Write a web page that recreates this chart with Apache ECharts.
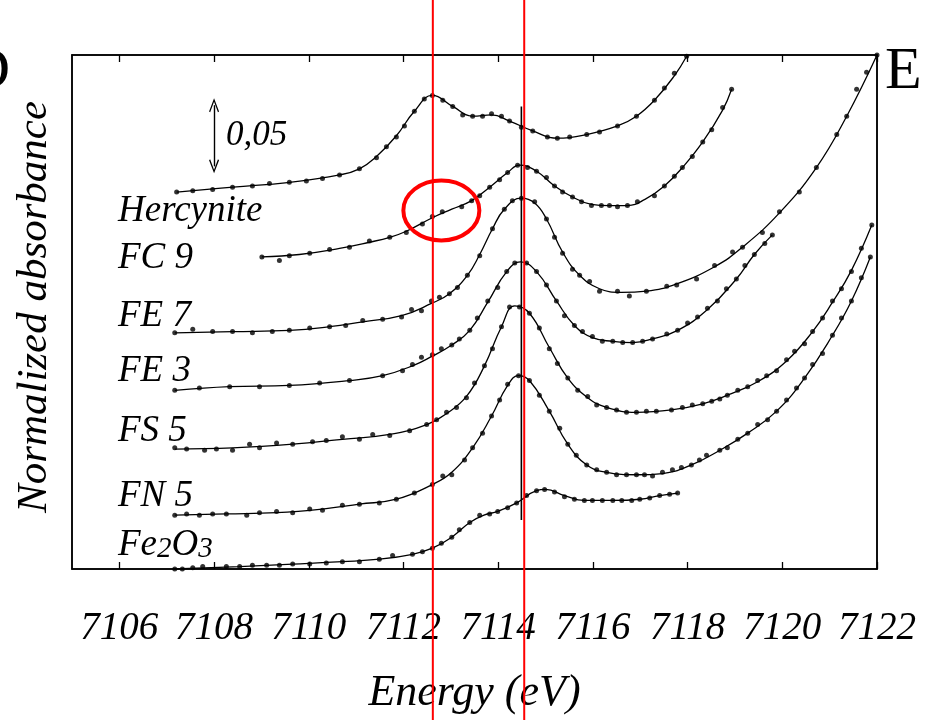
<!DOCTYPE html>
<html>
<head>
<meta charset="utf-8">
<script src="https://cdn.jsdelivr.net/npm/echarts@6/dist/echarts.min.js"></script>
<style>
  html, body { margin: 0; padding: 0; background: #fff; }
  #chart { width: 929px; height: 720px; }
</style>
</head>
<body>
<div id="chart"></div>
<script>
// Fe K pre-edge XANES spectra, vertically offset for clarity: [energy (eV), absorbance]
const energyTicks = [7106, 7108, 7110, 7112, 7114, 7116, 7118, 7120, 7122];

const sampleNames = ['Hercynite', 'FC 9', 'FE 7', 'FE 3', 'FS 5', 'FN 5', 'Fe{s|2}O{s|3}'];

// measured points
const hercynite = [
  [7107.21,0.308],[7107.55,0.309],[7107.97,0.310],[7108.39,0.312],[7108.81,0.313],[7109.17,0.315],
  [7109.59,0.316],[7109.95,0.317],[7110.29,0.319],[7110.65,0.322],[7111.07,0.327],[7111.43,0.336],
  [7111.64,0.345],[7111.85,0.353],[7112.02,0.362],[7112.23,0.374],[7112.44,0.384],[7112.61,0.387],
  [7112.83,0.383],[7113.04,0.378],[7113.25,0.371],[7113.46,0.370],[7113.67,0.370],[7113.86,0.372],
  [7114.07,0.370],[7114.24,0.366],[7114.49,0.361],[7114.73,0.358],[7115.04,0.353],[7115.25,0.352],
  [7115.51,0.353],[7115.87,0.355],[7116.14,0.357],[7116.52,0.362],[7116.92,0.370],[7117.30,0.383],
  [7117.51,0.393],[7117.72,0.405],[7117.98,0.419]
];

const fc9 = [
  [7109.01,0.255],[7109.38,0.252],[7109.59,0.256],[7110.02,0.258],[7110.44,0.261],[7110.86,0.263],
  [7111.28,0.268],[7111.71,0.271],[7112.06,0.275],[7112.40,0.282],[7112.61,0.288],[7112.82,0.292],
  [7113.23,0.296],[7113.44,0.301],[7113.61,0.305],[7113.82,0.312],[7114.03,0.318],[7114.20,0.324],
  [7114.41,0.330],[7114.62,0.328],[7114.81,0.325],[7115.02,0.320],[7115.19,0.313],[7115.36,0.308],
  [7115.57,0.304],[7115.76,0.300],[7115.97,0.297],[7116.18,0.297],[7116.35,0.297],[7116.52,0.296],
  [7116.73,0.297],[7116.94,0.300],[7117.30,0.305],[7117.51,0.313],[7117.72,0.321],[7117.89,0.328],
  [7118.10,0.337],[7118.32,0.349],[7118.51,0.359],[7118.74,0.377],[7118.93,0.392]
];

const fe7 = [
  [7107.17,0.193],[7107.55,0.196],[7107.97,0.194],[7108.39,0.194],[7108.81,0.193],[7109.23,0.194],
  [7109.59,0.195],[7110.02,0.197],[7110.44,0.198],[7110.78,0.199],[7111.14,0.203],[7111.56,0.204],
  [7111.96,0.206],[7112.17,0.212],[7112.38,0.211],[7112.59,0.219],[7112.76,0.222],[7112.97,0.225],
  [7113.14,0.230],[7113.35,0.240],[7113.61,0.256],[7113.88,0.278],[7114.13,0.294],[7114.30,0.301],
  [7114.49,0.303],[7114.77,0.300],[7115.02,0.286],[7115.19,0.271],[7115.36,0.258],[7115.57,0.245],
  [7115.72,0.240],[7115.93,0.235],[7116.14,0.227],[7116.52,0.227],[7116.77,0.223],[7117.13,0.227],
  [7117.56,0.231],[7117.77,0.232],[7118.19,0.237],[7118.57,0.248],[7118.95,0.259],[7119.16,0.263],
  [7119.58,0.275],[7119.94,0.292],[7120.36,0.308],[7120.72,0.328],[7121.15,0.355],[7121.36,0.370],
  [7121.57,0.392],[7121.78,0.406],[7122.00,0.420]
];

const fe3 = [
  [7107.17,0.146],[7107.69,0.148],[7108.33,0.149],[7108.96,0.149],[7109.59,0.150],[7110.23,0.152],
  [7110.86,0.154],[7111.56,0.158],[7111.98,0.162],[7112.19,0.167],[7112.38,0.173],[7112.61,0.175],
  [7112.80,0.180],[7113.02,0.183],[7113.18,0.188],[7113.40,0.195],[7113.56,0.205],[7113.78,0.219],
  [7113.99,0.230],[7114.18,0.243],[7114.35,0.250],[7114.60,0.250],[7114.81,0.243],[7115.02,0.232],
  [7115.23,0.219],[7115.40,0.207],[7115.61,0.199],[7115.78,0.194],[7115.99,0.190],[7116.20,0.186],
  [7116.42,0.186],[7116.63,0.185],[7116.84,0.185],[7117.05,0.186],[7117.26,0.188],[7117.56,0.192],
  [7117.79,0.195],[7118.00,0.201],[7118.21,0.206],[7118.42,0.213],[7118.63,0.219],[7118.82,0.229],
  [7119.03,0.237],[7119.21,0.248],[7119.41,0.257],[7119.63,0.266],[7119.79,0.273]
];

const fs5 = [
  [7107.17,0.099],[7107.42,0.098],[7107.80,0.097],[7108.05,0.098],[7108.39,0.097],[7108.75,0.102],
  [7108.96,0.099],[7109.32,0.103],[7109.66,0.102],[7110.08,0.104],[7110.37,0.105],[7110.71,0.108],
  [7111.07,0.106],[7111.35,0.110],[7111.71,0.109],[7112.13,0.113],[7112.49,0.118],[7112.70,0.122],
  [7112.91,0.128],[7113.12,0.132],[7113.33,0.140],[7113.50,0.152],[7113.71,0.166],[7113.88,0.180],
  [7114.07,0.198],[7114.24,0.214],[7114.45,0.214],[7114.66,0.209],[7114.87,0.197],[7115.08,0.180],
  [7115.25,0.168],[7115.47,0.156],[7115.68,0.146],[7115.89,0.141],[7116.08,0.134],[7116.29,0.132],
  [7116.50,0.130],[7116.71,0.128],[7116.92,0.128],[7117.13,0.129],[7117.34,0.129],[7117.66,0.130],
  [7117.89,0.132],[7118.10,0.134],[7118.32,0.135],[7118.51,0.137],[7118.68,0.139],[7118.84,0.142],
  [7119.06,0.146],[7119.27,0.149],[7119.48,0.154],[7119.67,0.158],[7119.88,0.162],[7120.09,0.171],
  [7120.26,0.178],[7120.47,0.184],[7120.64,0.194],[7120.85,0.205],[7121.06,0.219],[7121.25,0.229],
  [7121.46,0.243],[7121.67,0.262],[7121.89,0.281]
];

const fn5 = [
  [7107.17,0.044],[7107.42,0.045],[7107.69,0.044],[7107.97,0.045],[7108.26,0.045],[7108.69,0.044],
  [7108.96,0.046],[7109.32,0.047],[7109.66,0.046],[7110.02,0.049],[7110.29,0.048],[7110.71,0.052],
  [7111.07,0.053],[7111.49,0.054],[7111.85,0.057],[7112.23,0.062],[7112.61,0.069],[7112.83,0.076],
  [7113.02,0.077],[7113.29,0.089],[7113.46,0.099],[7113.67,0.111],[7113.86,0.125],[7114.03,0.138],
  [7114.20,0.151],[7114.43,0.158],[7114.66,0.154],[7114.87,0.142],[7115.08,0.129],[7115.30,0.115],
  [7115.47,0.102],[7115.65,0.093],[7115.87,0.085],[7116.08,0.081],[7116.29,0.079],[7116.50,0.077],
  [7116.71,0.077],[7116.92,0.077],[7117.09,0.077],[7117.26,0.076],[7117.47,0.079],[7117.68,0.081],
  [7117.87,0.083],[7118.08,0.085],[7118.25,0.089],[7118.40,0.093],[7118.68,0.097],[7118.84,0.099],
  [7119.06,0.106],[7119.27,0.111],[7119.48,0.118],[7119.69,0.122],[7119.88,0.129],[7120.09,0.138],
  [7120.30,0.148],[7120.47,0.156],[7120.64,0.167],[7120.85,0.176],[7121.06,0.191],[7121.25,0.205],
  [7121.46,0.219],[7121.67,0.238],[7121.86,0.255]
];

const fe2o3 = [
  [7107.17,0.000],[7107.33,0.000],[7107.55,0.001],[7107.76,0.002],[7108.26,0.002],[7108.54,0.002],
  [7108.81,0.003],[7109.11,0.003],[7109.38,0.003],[7109.66,0.004],[7110.02,0.004],[7110.37,0.005],
  [7110.71,0.006],[7111.07,0.006],[7111.49,0.008],[7111.77,0.011],[7112.19,0.012],[7112.40,0.014],
  [7112.61,0.017],[7112.80,0.021],[7113.02,0.026],[7113.18,0.032],[7113.40,0.038],[7113.61,0.044],
  [7113.82,0.045],[7113.99,0.047],[7114.20,0.050],[7114.39,0.054],[7114.60,0.060],[7114.81,0.064],
  [7114.98,0.065],[7115.19,0.063],[7115.40,0.059],[7115.61,0.057],[7115.82,0.056],[7115.99,0.056],
  [7116.20,0.056],[7116.42,0.056],[7116.61,0.056],[7116.82,0.056],[7116.99,0.057],[7117.20,0.058],
  [7117.41,0.060],[7117.62,0.061],[7117.79,0.062]
];

// fitted curves (knots of the smooth fit)
const hercyniteFit = [
  [7107.21,0.308],[7108.40,0.312],[7109.60,0.316],[7110.65,0.322],[7111.07,0.327],[7111.43,0.337],
  [7111.85,0.354],[7112.23,0.374],[7112.61,0.387],[7113.04,0.378],[7113.46,0.370],[7113.86,0.371],
  [7114.24,0.366],[7114.73,0.358],[7115.25,0.352],[7115.87,0.355],[7116.52,0.362],[7116.92,0.370],
  [7117.30,0.383],[7117.72,0.403],[7117.98,0.419]
];
const fc9Fit = [
  [7109.01,0.255],[7109.80,0.257],[7110.65,0.262],[7111.28,0.267],[7111.71,0.271],[7112.06,0.276],
  [7112.61,0.287],[7113.02,0.294],[7113.44,0.301],[7113.82,0.312],[7114.20,0.324],[7114.45,0.330],
  [7114.81,0.325],[7115.19,0.313],[7115.57,0.304],[7115.97,0.298],[7116.35,0.297],[7116.73,0.297],
  [7117.10,0.302],[7117.51,0.313],[7117.89,0.328],[7118.32,0.349],[7118.74,0.375],[7118.93,0.392]
];
const fe7Fit = [
  [7107.17,0.193],[7108.40,0.194],[7109.60,0.195],[7110.44,0.198],[7111.14,0.202],[7111.96,0.207],
  [7112.59,0.217],[7112.97,0.225],[7113.35,0.240],[7113.61,0.257],[7113.88,0.278],[7114.13,0.294],
  [7114.49,0.303],[7114.77,0.299],[7115.02,0.286],[7115.36,0.259],[7115.72,0.240],[7116.14,0.229],
  [7116.60,0.226],[7117.13,0.227],[7117.77,0.233],[7118.57,0.247],[7119.16,0.263],[7119.94,0.291],
  [7120.72,0.328],[7121.36,0.370],[7122.00,0.420]
];
const fe3Fit = [
  [7107.17,0.146],[7108.33,0.149],[7109.59,0.150],[7110.86,0.154],[7111.56,0.158],[7112.19,0.166],
  [7112.61,0.174],[7113.02,0.183],[7113.40,0.195],[7113.78,0.218],[7114.18,0.243],[7114.47,0.251],
  [7114.81,0.243],[7115.23,0.219],[7115.61,0.199],[7115.99,0.189],[7116.42,0.186],[7116.84,0.185],
  [7117.26,0.188],[7117.79,0.195],[7118.42,0.212],[7119.03,0.237],[7119.41,0.257],[7119.79,0.273]
];
const fs5Fit = [
  [7107.17,0.098],[7108.39,0.099],[7109.66,0.102],[7110.71,0.106],[7111.71,0.110],[7112.49,0.118],
  [7112.91,0.127],[7113.33,0.141],[7113.71,0.166],[7114.07,0.198],[7114.35,0.215],[7114.66,0.209],
  [7115.08,0.181],[7115.47,0.156],[7115.89,0.140],[7116.29,0.132],[7116.92,0.128],[7117.66,0.130],
  [7118.32,0.135],[7118.84,0.142],[7119.48,0.153],[7120.09,0.170],[7120.64,0.194],[7121.06,0.218],
  [7121.46,0.244],[7121.89,0.281]
];
const fn5Fit = [
  [7107.17,0.044],[7108.26,0.045],[7109.32,0.046],[7110.29,0.049],[7111.07,0.053],[7111.85,0.057],
  [7112.61,0.069],[7113.02,0.079],[7113.46,0.099],[7113.86,0.125],[7114.20,0.150],[7114.43,0.158],
  [7114.66,0.154],[7115.08,0.129],[7115.47,0.102],[7115.87,0.085],[7116.29,0.079],[7116.92,0.077],
  [7117.47,0.078],[7118.08,0.085],[7118.68,0.097],[7119.27,0.111],[7119.88,0.129],[7120.47,0.156],
  [7121.06,0.191],[7121.46,0.219],[7121.86,0.255]
];
const fe2o3Fit = [
  [7107.17,0.000],[7108.54,0.002],[7109.66,0.004],[7110.71,0.006],[7111.49,0.008],[7112.19,0.012],
  [7112.61,0.017],[7113.02,0.026],[7113.40,0.038],[7113.70,0.044],[7113.99,0.047],[7114.39,0.054],
  [7114.81,0.064],[7115.00,0.065],[7115.40,0.060],[7115.82,0.056],[7116.42,0.056],[7116.99,0.057],
  [7117.41,0.060],[7117.79,0.062]
];

const measured = [hercynite, fc9, fe7, fe3, fs5, fn5, fe2o3];
const fits = [hercyniteFit, fc9Fit, fe7Fit, fe3Fit, fs5Fit, fn5Fit, fe2o3Fit];

// reference energies: pre-edge markers and the main-edge line
const markerEnergies = [7112.62, 7114.55];
const edgeLine = [[7114.49, 0.040], [7114.49, 0.378]];
// 0.05 absorbance scale bar
const scaleBar = [[7108.0, 0.329], [7108.0, 0.379]];
const scaleBarText = '0,05';
// highlighted pre-edge feature of FC 9
const highlight = [7112.80, 0.293];

const SERIF = '"Liberation Serif", "Times New Roman", serif';

const chart = echarts.init(document.getElementById('chart'), null, { renderer: 'canvas' });

const fitSeries = fits.map((data, i) => ({
  type: 'line',
  name: sampleNames[i] + ' fit',
  data: data,
  smooth: 0.45,
  showSymbol: false,
  lineStyle: { color: '#000', width: 1.3 },
  silent: true,
  z: 3
}));

const pointSeries = measured.map((data, i) => ({
  type: 'scatter',
  name: sampleNames[i],
  data: data,
  symbol: 'circle',
  symbolSize: 5,
  itemStyle: { color: '#000' },
  silent: true,
  z: 4
}));

const chevron = 'path://M5,0 L10,12 L8.9,12.7 L5,3.2 L1.1,12.7 L0,12 Z';

const axisCommon = {
  type: 'value',
  min: 7105,
  max: 7122,
  splitLine: { show: false },
  axisLine: { show: true, onZero: false, lineStyle: { color: '#000', width: 1.5 } },
  axisTick: { show: true, inside: true, length: 7, customValues: energyTicks,
              lineStyle: { color: '#000', width: 1.3 } }
};

chart.setOption({
  animation: false,
  grid: { left: 72, top: 55, width: 805, height: 517, show: true,
          borderColor: '#000', borderWidth: 1.5, backgroundColor: 'transparent' },
  xAxis: [
    Object.assign({}, axisCommon, {
      position: 'bottom',
      axisLabel: {
        customValues: energyTicks,
        formatter: v => String(v),
        fontFamily: SERIF, fontStyle: 'italic', fontSize: 39, color: '#000', margin: 40
      },
      name: 'Energy (eV)',
      nameLocation: 'middle',
      nameGap: 102,
      nameTextStyle: { fontFamily: SERIF, fontStyle: 'italic', fontSize: 44, color: '#000' }
    }),
    Object.assign({}, axisCommon, { position: 'top', axisLabel: { show: false } })
  ],
  yAxis: [
    { type: 'value', min: 0, max: 0.42, position: 'left',
      axisLine: { show: true, lineStyle: { color: '#000', width: 1.5 } },
      axisTick: { show: false }, axisLabel: { show: false }, splitLine: { show: false } },
    { type: 'value', min: 0, max: 0.42, position: 'right',
      axisLine: { show: true, lineStyle: { color: '#000', width: 1.5 } },
      axisTick: { show: false }, axisLabel: { show: false }, splitLine: { show: false } }
  ],
  series: fitSeries.concat(pointSeries, [
    {
      type: 'line',
      name: 'edge',
      data: edgeLine,
      showSymbol: false,
      lineStyle: { color: '#000', width: 1.6 },
      silent: true,
      z: 5,
      markLine: {
        silent: true,
        symbol: [chevron, chevron],
        symbolSize: [10, 14],
        lineStyle: { color: '#000', width: 1.4, type: 'solid' },
        label: { show: false },
        data: [[{ coord: scaleBar[0] }, { coord: scaleBar[1] }]]
      }
    }
  ])
});

// annotations placed through the axes' own scales
const toPx = p => chart.convertToPixel({ xAxisIndex: 0, yAxisIndex: 0 }, p);

const labelBaselines = [223, 270, 328, 383, 443, 508, 557];
const labelFont = 'italic 37px ' + SERIF;

const graphics = [];

sampleNames.forEach((name, i) => {
  graphics.push({
    type: 'text', x: 118, y: labelBaselines[i] - 12, z: 10, silent: true,
    style: {
      text: name, font: labelFont, fill: '#000', align: 'left', verticalAlign: 'middle',
      rich: { s: { font: 'italic 29px ' + SERIF, fill: '#000', lineHeight: 27, verticalAlign: 'bottom' } }
    }
  });
});

const barMid = toPx([scaleBar[0][0], (scaleBar[0][1] + scaleBar[1][1]) / 2]);
graphics.push({
  type: 'text', x: barMid[0] + 12, y: barMid[1], z: 10, silent: true,
  style: { text: scaleBarText, font: 'italic 35px ' + SERIF, fill: '#000', align: 'left', verticalAlign: 'middle' }
});

graphics.push({
  type: 'text', x: 35, y: 307, rotation: Math.PI / 2, z: 10, silent: true,
  style: { text: 'Normalized absorbance', font: 'italic 43px ' + SERIF, fill: '#000',
           align: 'center', verticalAlign: 'middle' }
});

graphics.push({
  type: 'text', x: 885, y: 72, z: 10, silent: true,
  style: { text: 'E', font: '60px ' + SERIF, fill: '#000', align: 'left', verticalAlign: 'middle' }
});
graphics.push({
  type: 'text', x: 10, y: 72, z: 10, silent: true,
  style: { text: 'D', font: '60px ' + SERIF, fill: '#000', align: 'right', verticalAlign: 'middle' }
});

markerEnergies.forEach(e => {
  const x = toPx([e, 0])[0];
  graphics.push({
    type: 'line', z: 20, silent: true,
    shape: { x1: x, y1: 0, x2: x, y2: 720 },
    style: { stroke: '#f00', lineWidth: 2 }
  });
});

const c = toPx(highlight);
graphics.push({
  type: 'ellipse', z: 20, silent: true,
  shape: { cx: c[0], cy: c[1], rx: 38, ry: 30 },
  style: { fill: 'none', stroke: '#f00', lineWidth: 4 }
});

chart.setOption({ graphic: graphics });
</script>
</body>
</html>
